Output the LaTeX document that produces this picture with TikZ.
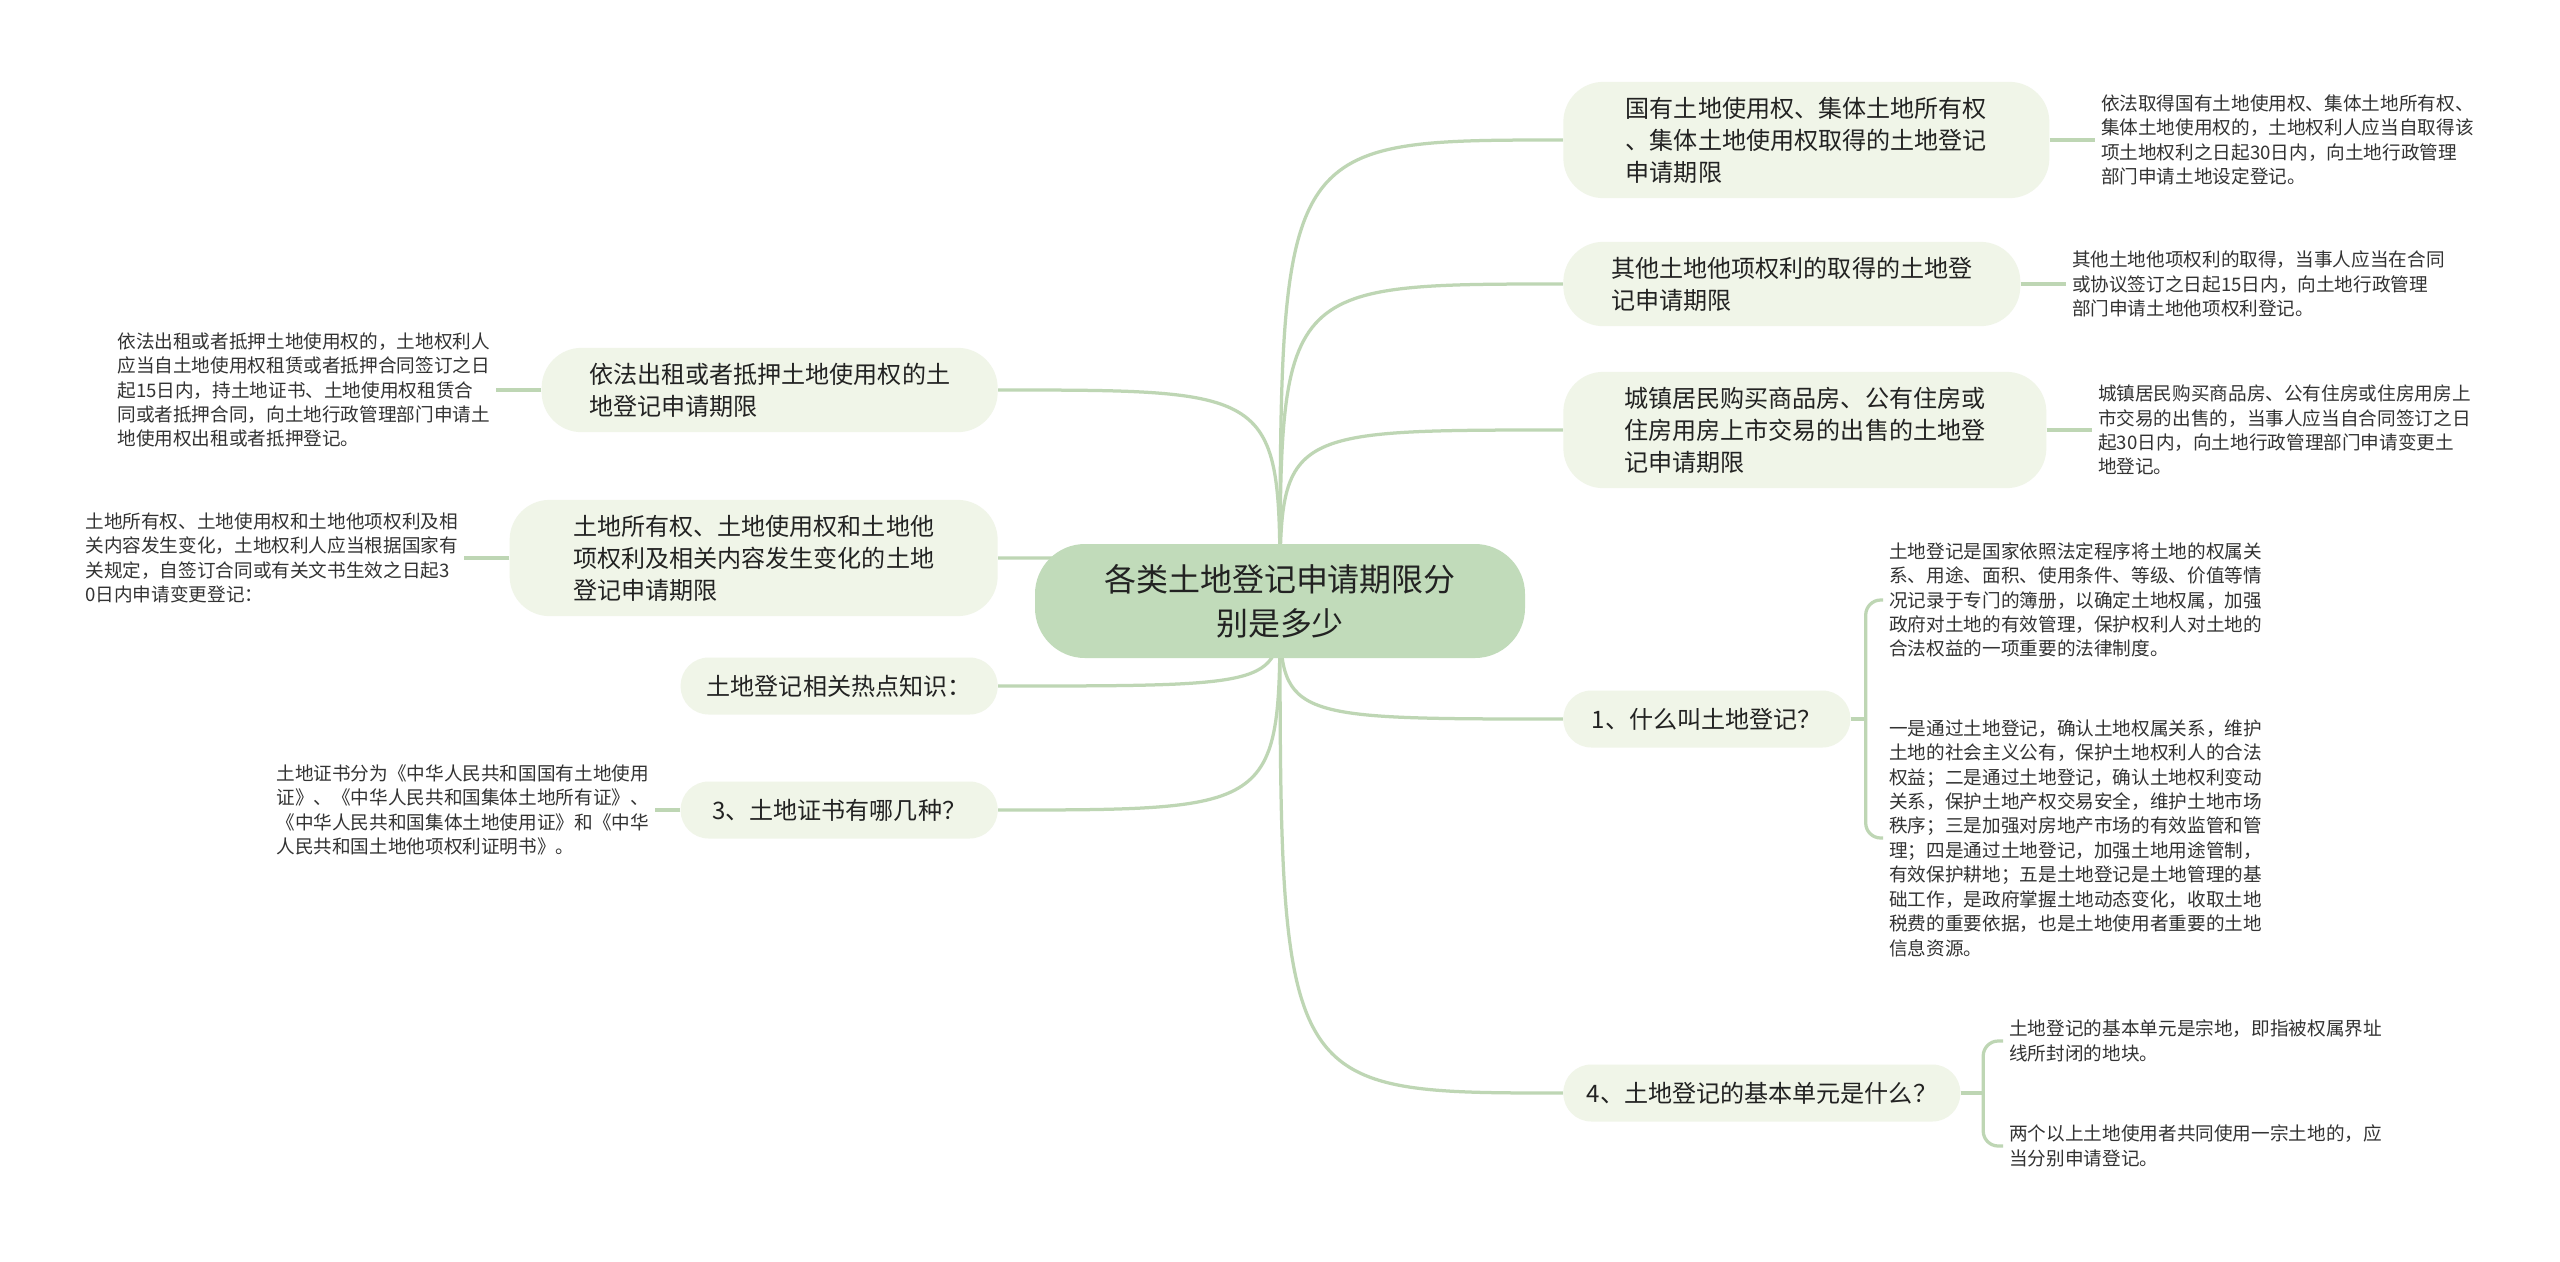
\documentclass[tikz,border=0pt]{standalone}
\usepackage{fontspec}
\setmainfont{Noto Sans CJK SC}
\usetikzlibrary{positioning,backgrounds}
\definecolor{hubfill}{RGB}{193,219,186}
\definecolor{topicfill}{RGB}{240,245,232}
\definecolor{linkc}{RGB}{190,214,180}
\definecolor{ink}{RGB}{34,34,34}
\definecolor{soft}{RGB}{51,51,51}

\begin{document}
\begin{tikzpicture}[x=0.2mm,y=-0.2mm,
      node distance=9mm,
      hub/.style={fill=hubfill,rounded corners=1cm,
        minimum width=9.8cm,minimum height=2.28cm,
        align=center,text=ink,font=\fontsize{18.2}{25}\selectfont},
      topic/.style={fill=topicfill,rounded corners=8mm,inner ysep=3mm,
        align=left,text=ink,font=\fontsize{13.7}{18.2}\selectfont},
      pill/.style={topic,rounded corners=5.6mm,minimum height=11.4mm},
      leaf/.style={inner sep=1.2mm,align=left,text=soft,
        font=\fontsize{10.6}{13.9}\selectfont},
      link/.style={draw=linkc,line width=0.65mm},
      fork/.style={link,rounded corners=3mm}
    ]
      \useasboundingbox(0,0)rectangle(2560,1261);
      \node[hub](hub)at(1280,601){各类土地登记申请期限分\\别是多少};

      % right side
      \node[topic,anchor=west,minimum width=9.72cm](r1)at(1563,140){%
        国有土地使用权、集体土地所有权\\、集体土地使用权取得的土地登记\\申请期限};
      \node[leaf,right=of r1](r1n){依法取得国有土地使用权、集体土地所有权、\\
        集体土地使用权的，土地权利人应当自取得该\\项土地权利之日起30日内，向土地行政管理\\
        部门申请土地设定登记。};
      \node[topic,anchor=west,minimum width=9.14cm](r2)at(1563,284){%
        其他土地他项权利的取得的土地登\\记申请期限};
      \node[leaf,right=of r2](r2n){其他土地他项权利的取得，当事人应当在合同\\
        或协议签订之日起15日内，向土地行政管理\\部门申请土地他项权利登记。};
      \node[topic,anchor=west,minimum width=9.66cm](r3)at(1563,430){%
        城镇居民购买商品房、公有住房或\\住房用房上市交易的出售的土地登\\记申请期限};
      \node[leaf,right=of r3](r3n){城镇居民购买商品房、公有住房或住房用房上\\
        市交易的出售的，当事人应当自合同签订之日\\起30日内，向土地行政管理部门申请变更土\\地登记。};
      \node[pill,anchor=west,minimum width=5.74cm](r4)at(1563,719){1、什么叫土地登记？};
      \coordinate[right=3mm of r4](r4j);
      \node[leaf,anchor=west](r4a)at(1883,600){土地登记是国家依照法定程序将土地的权属关\\
        系、用途、面积、使用条件、等级、价值等情\\况记录于专门的簿册，以确定土地权属，加强\\
        政府对土地的有效管理，保护权利人对土地的\\合法权益的一项重要的法律制度。};
      \node[leaf,anchor=west](r4b)at(1883,838){一是通过土地登记，确认土地权属关系，维护\\
        土地的社会主义公有，保护土地权利人的合法\\权益；二是通过土地登记，确认土地权利变动\\
        关系，保护土地产权交易安全，维护土地市场\\秩序；三是加强对房地产市场的有效监管和管\\
        理；四是通过土地登记，加强土地用途管制，\\有效保护耕地；五是土地登记是土地管理的基\\
        础工作，是政府掌握土地动态变化，收取土地\\税费的重要依据，也是土地使用者重要的土地\\
        信息资源。};
      \node[pill,anchor=west,minimum width=7.94cm](r5)at(1563,1093){4、土地登记的基本单元是什么？};
      \coordinate[right=4.5mm of r5](r5j);
      \node[leaf,anchor=west](r5a)at(2003,1041){土地登记的基本单元是宗地，即指被权属界址\\
        线所封闭的地块。};
      \node[leaf,anchor=west](r5b)at(2003,1146){两个以上土地使用者共同使用一宗土地的，应\\
        当分别申请登记。};

      % left side
      \node[topic,anchor=east,minimum width=9.12cm](l1)at(998,390){%
        依法出租或者抵押土地使用权的土\\地登记申请期限};
      \node[leaf,left=of l1](l1n){依法出租或者抵押土地使用权的，土地权利人\\
        应当自土地使用权租赁或者抵押合同签订之日\\起15日内，持土地证书、土地使用权租赁合\\
        同或者抵押合同，向土地行政管理部门申请土\\地使用权出租或者抵押登记。};
      \node[topic,anchor=east,minimum width=9.76cm](l2)at(998,558){%
        土地所有权、土地使用权和土地他\\项权利及相关内容发生变化的土地\\登记申请期限};
      \node[leaf,left=of l2](l2n){土地所有权、土地使用权和土地他项权利及相\\
        关内容发生变化，土地权利人应当根据国家有\\关规定，自签订合同或有关文书生效之日起3\\
        0日内申请变更登记：};
      \node[pill,anchor=east,minimum width=6.34cm](l3)at(998,686){土地登记相关热点知识：};
      \node[pill,anchor=east,minimum width=6.34cm](l4)at(998,810){3、土地证书有哪几种？};
      \node[leaf,left=5mm of l4](l4n){土地证书分为《中华人民共和国国有土地使用\\
        证》、《中华人民共和国集体土地所有证》、\\《中华人民共和国集体土地使用证》和《中华\\
        人民共和国土地他项权利证明书》。};

      \begin{scope}[on background layer]
        \fill[white](0,0)rectangle(2560,1261);
        \draw[link](hub.center)..controls(hub.center|-r1.west)..(r1.west);
        \draw[link](hub.center)..controls(hub.center|-r2.west)..(r2.west);
        \draw[link](hub.center)..controls(hub.center|-r3.west)..(r3.west);
        \draw[link](hub.center)..controls(hub.center|-r4.west)..(r4.west);
        \draw[link](hub.center)..controls(hub.center|-r5.west)..(r5.west);
        \draw[link](hub.center)..controls(hub.center|-l1.east)..(l1.east);
        \draw[link](hub.center)..controls(hub.center|-l2.east)..(l2.east);
        \draw[link](hub.center)..controls(hub.center|-l3.east)..(l3.east);
        \draw[link](hub.center)..controls(hub.center|-l4.east)..(l4.east);
      \end{scope}

      \draw[link](r1.east)--(r1n.west);
      \draw[link](r2.east)--(r2n.west);
      \draw[link](r3.east)--(r3n.west);
      \draw[link](r4.east)--(r4j);
      \draw[fork](r4a.west)-|(r4j);
      \draw[fork](r4b.west)-|(r4j);
      \draw[link](r5.east)--(r5j);
      \draw[fork](r5a.west)-|(r5j);
      \draw[fork](r5b.west)-|(r5j);
      \draw[link](l1.west)--(l1n.east);
      \draw[link](l2.west)--(l2n.east);
      \draw[link](l4.west)--(l4n.east);
    \end{tikzpicture}
\end{document}
